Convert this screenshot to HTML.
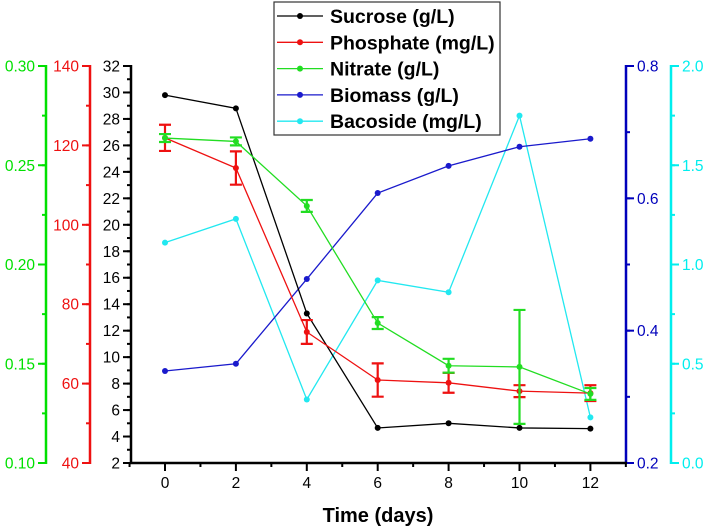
<!DOCTYPE html>
<html><head><meta charset="utf-8"><style>body{margin:0;background:#fff}svg{display:block;font-family:"Liberation Sans",Arial,sans-serif}</style></head>
<body>
<svg id="chart" width="708" height="527" viewBox="0 0 708 527"></svg>
<script>
const days=[0,2,4,6,8,10,12];
const sucrose=[29.8,28.8,13.3,4.65,5.0,4.65,4.6];
const phosphate=[121.9,114.3,73,60.9,60.2,58.1,57.6];
const phosphateErr=[3.3,4.2,3,4.2,2.5,1.5,2];
const nitrate=[0.2637,0.262,0.2295,0.1705,0.149,0.1484,0.1348];
const nitrateErr=[0.002,0.002,0.003,0.003,0.0035,0.0287,0.003];
const biomass=[0.339,0.35,0.478,0.608,0.649,0.678,0.69];
const bacoside=[1.11,1.23,0.32,0.92,0.86,1.75,0.23];
const xTicks=[0,2,4,6,8,10,12];
const blackTicks=[2,4,6,8,10,12,14,16,18,20,22,24,26,28,30,32];
const redTicks=[40,60,80,100,120,140];
const greenTicks=["0.10","0.15","0.20","0.25","0.30"];
const blueTicks=["0.2","0.4","0.6","0.8"];
const cyanTicks=["0.0","0.5","1.0","1.5","2.0"];

const svg=document.getElementById('chart');const NS='http://www.w3.org/2000/svg';
const TOP=66,BOT=463;
function el(t,a,p){const e=document.createElementNS(NS,t);for(const k in a)e.setAttribute(k,a[k]);(p||svg).appendChild(e);return e;}
const X=d=>165+d*35.45;
const lin=(a,b)=>v=>BOT-(v-a)/(b-a)*(BOT-TOP);
const yS=lin(2,32),yP=lin(40,140),yN=lin(0.1,0.3),yB=lin(0.2,0.8),yC=lin(0,2);

function axis(x,col,ticks,scale,side,minorStep,name,w){
  const g=el('g',{});
  
  el('line',{x1:x,x2:x,y1:TOP-1,y2:BOT+1,stroke:col,'stroke-width':w||2.5},g);
  const lo=parseFloat(ticks[0]),hi=parseFloat(ticks[ticks.length-1]);
  for(let v=lo;v<=hi+1e-9;v+=minorStep){el('line',{x1:x,x2:x+side*4,y1:scale(v),y2:scale(v),stroke:col,'stroke-width':2},g);}
  ticks.forEach(t=>{const v=parseFloat(t),y=scale(v);
    el('line',{x1:x,x2:x+side*8,y1:y,y2:y,stroke:col,'stroke-width':2},g);
    const tx=el('text',{x:x+side*11,y:y+5.5,fill:col,'font-size':15.5,'text-anchor':side<0?'end':'start'},g);tx.textContent=t;});
}
axis(46,'#00e000',greenTicks,yN,-1,0.025,'nitrate-axis');
axis(90,'#ee1111',redTicks,yP,-1,10,'phosphate-axis');
axis(131,'#000',blackTicks,yS,-1,1,'sucrose-axis');
axis(626,'#0000bb',blueTicks,yB,1,0.1,'biomass-axis');
axis(671,'#00eeee',cyanTicks,yC,1,0.25,'bacoside-axis');

const xg=el('g',{});
el('line',{x1:130,x2:627,y1:BOT,y2:BOT,stroke:'#000','stroke-width':2.5},xg);
for(let d=-1;d<=13;d++){el('line',{x1:X(d),x2:X(d),y1:BOT,y2:BOT+(d%2?4:8),stroke:'#000','stroke-width':2},xg);}
xTicks.forEach(d=>{const t=el('text',{x:X(d),y:BOT+25,'font-size':15.5,'text-anchor':'middle'},xg);t.textContent=d;});
const xt=el('text',{x:378,y:522,'font-size':20,'font-weight':'bold','text-anchor':'middle'});
xt.textContent='Time (days)';

function series(vals,scale,col,name,err){
  const g=el('g',{});
  el('polyline',{points:vals.map((v,i)=>X(days[i])+','+scale(v)).join(' '),fill:'none',stroke:col,'stroke-width':1.3},g);
  vals.forEach((v,i)=>{const x=X(days[i]);
    if(err){const a=scale(v+err[i]),b=scale(v-err[i]);
      el('path',{d:`M${x},${a}V${b}M${x-6},${a}H${x+6}M${x-6},${b}H${x+6}`,stroke:col,'stroke-width':2.2,fill:'none'},g);}
    el('circle',{cx:x,cy:scale(v),r:3,fill:col},g);});
}
series(bacoside,yC,'#22e8f0','bacoside-series');
series(biomass,yB,'#1a1acc','biomass-series');
series(sucrose,yS,'#000','sucrose-series');
series(phosphate,yP,'#ee1111','phosphate-series',phosphateErr);
series(nitrate,yN,'#22dd22','nitrate-series',nitrateErr);

const lg=el('g',{});
el('rect',{x:274,y:2,width:226,height:133,fill:'#fff',stroke:'#333','stroke-width':1.2},lg);
const lab=['Sucrose (g/L)','Phosphate (mg/L)','Nitrate (g/L)','Biomass (g/L)','Bacoside (mg/L)'];
const lc=['#000','#ee1111','#22dd22','#1a1acc','#22e8f0'];
lab.forEach((s,i)=>{const y=16+i*26.3;
  const e=el('g',{},lg);
  el('line',{x1:277,x2:323,y1:y,y2:y,stroke:lc[i],'stroke-width':1.3},e);
  el('circle',{cx:300,cy:y,r:3,fill:lc[i]},e);
  const t=el('text',{x:330,y:y+7,'font-size':19.5,'font-weight':'bold'},e);t.textContent=s;});
</script>
</body></html>
